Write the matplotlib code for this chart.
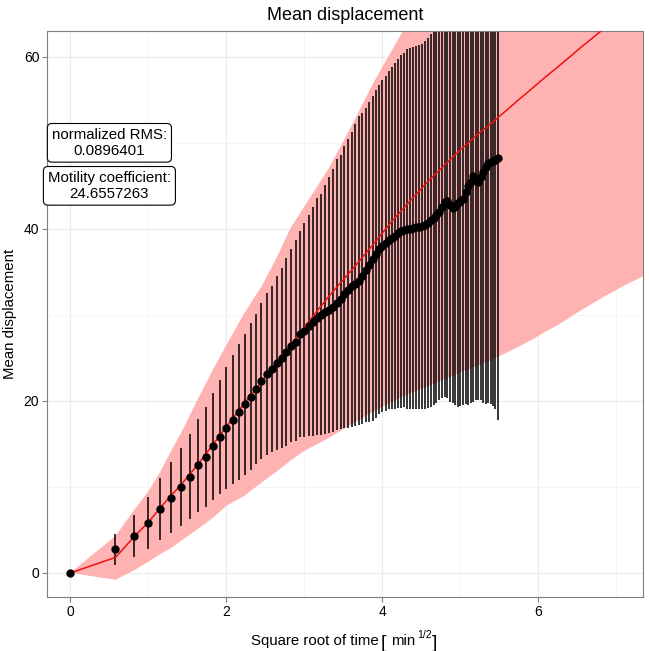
import numpy as np
import matplotlib
matplotlib.use('Agg')
import matplotlib.pyplot as plt

plt.rcParams['font.family'] = ['Liberation Sans', 'DejaVu Sans']

# measured data, one frame every 20 s (time in minutes)
time_min = np.arange(91) / 3
mean_disp = [0, 2.76, 4.3, 5.78, 7.44, 8.76, 10.0, 11.2, 12.5, 13.5,
             14.7, 15.8, 16.8, 17.8, 18.7, 19.6, 20.5, 21.4, 22.3, 23.1,
             23.7, 24.4, 25.0, 25.7, 26.4, 26.9, 27.75, 28.1, 28.7, 29.2,
             29.6, 29.96, 30.3, 30.6, 30.9, 31.4, 31.9, 32.4, 32.9, 33.3,
             33.6, 33.9, 34.5, 35.2, 35.8, 36.5, 37.1, 37.6, 38.0, 38.3,
             38.7, 38.9, 39.2, 39.5, 39.7, 39.9, 40.0, 40.0, 40.1, 40.2,
             40.2, 40.3, 40.4, 40.7, 41.0, 41.3, 41.6, 42.0, 42.5, 43.1,
             43.2, 42.8, 42.4, 42.6, 43.0, 43.2, 43.5, 44.3, 45.0, 45.5,
             46.1, 45.7, 45.5, 46.0, 46.6, 47.2, 47.6, 47.8, 47.9, 48.0,
             48.2]
err_up = [0, 1.8, 2.47, 3.0, 3.6, 4.1, 4.5, 4.9, 5.4, 5.8,
          6.2, 6.6, 7.1, 7.5, 7.9, 8.2, 8.5, 8.7, 9.1, 9.4,
          9.7, 10.1, 10.5, 10.9, 11.2, 11.8, 11.95, 12.6, 12.9, 13.3,
          14.0, 14.1, 14.8, 15.4, 16.0, 16.7, 16.7, 17.2, 17.6, 18.0,
          18.6, 19.2, 19.0, 18.9, 18.9, 18.9, 19.0, 19.1, 19.3, 19.5,
          19.7, 19.9, 20.1, 20.3, 20.5, 20.6, 20.9, 21.0, 21.0, 21.1,
          21.2, 21.2, 21.4, 21.5, 21.7, 21.8, 21.8, 21.9, 22.2, 22.6,
          22.9, 22.9, 22.7, 23.1, 23.7, 23.8, 24.0, 24.7, 25.5, 25.8,
          26.2, 25.6, 25.4, 25.9, 26.8, 27.6, 27.8, 28.2, 28.5, 29.0,
          30.4]
err_down = [0, 1.8, 2.47, 3.0, 3.6, 4.1, 4.5, 4.9, 5.4, 5.8,
            6.2, 6.6, 7.1, 7.5, 7.9, 8.2, 8.5, 8.7, 9.1, 9.4,
            9.7, 10.1, 10.5, 10.9, 11.2, 11.6, 11.9, 12.3, 12.8, 13.3,
            13.6, 13.9, 14.1, 14.3, 14.5, 14.8, 15.2, 15.6, 16.0, 16.3,
            16.5, 16.7, 17.2, 17.7, 18.2, 18.8, 19.1, 19.1, 19.3, 19.5,
            19.7, 19.9, 20.1, 20.3, 20.5, 20.6, 20.9, 21.0, 21.0, 21.1,
            21.2, 21.2, 21.4, 21.5, 21.7, 21.8, 21.8, 21.9, 22.2, 22.6,
            22.9, 22.9, 22.7, 23.1, 23.7, 23.8, 24.0, 24.7, 25.5, 25.8,
            26.2, 25.6, 25.4, 25.9, 26.8, 27.6, 27.8, 28.2, 28.5, 29.0,
            30.4]

# model prediction (time in minutes)
model_time = [0, 1/3, 2/3, 1, 4/3, 5/3, 2, 8/3, 10/3, 4, 5, 6, 7, 8, 9, 11, 13, 15,
              17, 19, 21, 23, 25, 27, 29, 31, 33, 35, 37, 39, 41, 43, 45, 47,
              49, 51, 53, 55]
model_mean = [0, 1.8, 4.2, 5.9, 7.6, 9.0, 10.2, 12.6, 14.9, 17.0, 19.8, 22.2,
              24.5, 26.6, 28.6, 32.2, 35.2, 38.1, 40.9, 43.3, 45.5, 47.4, 49.2,
              50.8, 52.2, 53.6, 55.0, 56.3, 57.6, 58.8, 60.0, 61.2, 62.3, 63.4,
              64.5, 65.5, 66.5, 67.5]
model_low = [0, -0.8, 0.3, 1.3, 2.2, 2.9, 3.7, 5.1, 6.4, 7.8, 9.0, 10.5, 11.8,
             13.1, 14.2, 15.7, 17.3, 18.7, 19.9, 20.9, 21.7, 22.5, 23.3, 24.0,
             24.7, 25.5, 26.3, 27.1, 28.0, 28.8, 29.7, 30.6, 31.4, 32.2, 32.9,
             33.6, 34.2, 34.9]
model_high = [0, 4.3, 7.3, 9.5, 11.8, 14.2, 16.2, 20.2, 23.6, 26.5, 30.3, 33.3,
              36.7, 40.2, 42.6, 47.1, 52.0, 56.8, 60.8, 64.5, 68.0, 71, 74, 77,
              80, 83, 86, 89, 92, 95, 98, 100, 102, 104, 106, 108, 110, 112]

rms_text = 'normalized RMS:\n0.0896401'
coef_text = 'Motility coefficient:\n24.6557263'

x = np.sqrt(time_min)
mx = np.sqrt(model_time)

W, H = 649, 651
fig = plt.figure(figsize=(W / 100, H / 100), dpi=100)
ax = fig.add_axes([47 / W, 1 - 597 / H, 596 / W, 566 / H])

ax.fill_between(mx, model_low, model_high, color='#ffb2b2', lw=0, zorder=1)
ax.errorbar(x, mean_disp, yerr=[err_down, err_up], fmt='none', ecolor='black',
            elinewidth=1.1, capsize=0, zorder=2)
ax.plot(mx, model_mean, color='#ee1111', lw=1.1, zorder=3)
ax.plot(x, mean_disp, 'o', color='black', ms=5, zorder=4)

for txt, yy in [(rms_text, 50.0), (coef_text, 45.0)]:
    ax.text(0.5, yy, txt, ha='center', va='center', fontsize=10.8,
            linespacing=1.15, zorder=5,
            bbox=dict(boxstyle='round,pad=0.3,rounding_size=0.3',
                      fc='white', ec='black', lw=0.8))

ax.set_xlim(-0.3, 7.34)
ax.set_ylim(-2.8, 63.0)
ax.set_xticks([0, 2, 4, 6])
ax.set_yticks([0, 20, 40, 60])
ax.set_xticks([1, 3, 5, 7], minor=True)
ax.set_yticks([10, 30, 50], minor=True)
ax.grid(which='major', color='#ebebeb', lw=0.8, zorder=0)
ax.grid(which='minor', color='#f2f2f2', lw=0.5, zorder=0)
ax.set_axisbelow(True)
ax.tick_params(which='minor', length=0)
ax.tick_params(which='major', length=3.5, color='#7f7f7f', labelsize=10,
               labelcolor='black', pad=2)
for s in ax.spines.values():
    s.set_color('#7f7f7f')
    s.set_linewidth(0.8)

ax.set_title('Mean displacement', fontsize=13, pad=8)
ax.set_ylabel('Mean displacement', fontsize=10.8, labelpad=5)

# x label with tall brackets around the unit
base = 1 - 645 / H
low = 1 - 647.5 / H
fig.text(378.5 / W, base, 'Square root of time', fontsize=10.8,
         ha='right', va='baseline')
fig.text(381 / W, low, '[', fontsize=14, ha='left', va='baseline')
fig.text(391 / W, base, 'min', fontsize=10.8, ha='left', va='baseline')
fig.text(417.5 / W, 1 - 638 / H, '1/2', fontsize=7.5, ha='left', va='baseline')
fig.text(432 / W, low, ']', fontsize=14, ha='left', va='baseline')

fig.savefig('out.png', dpi=100)
